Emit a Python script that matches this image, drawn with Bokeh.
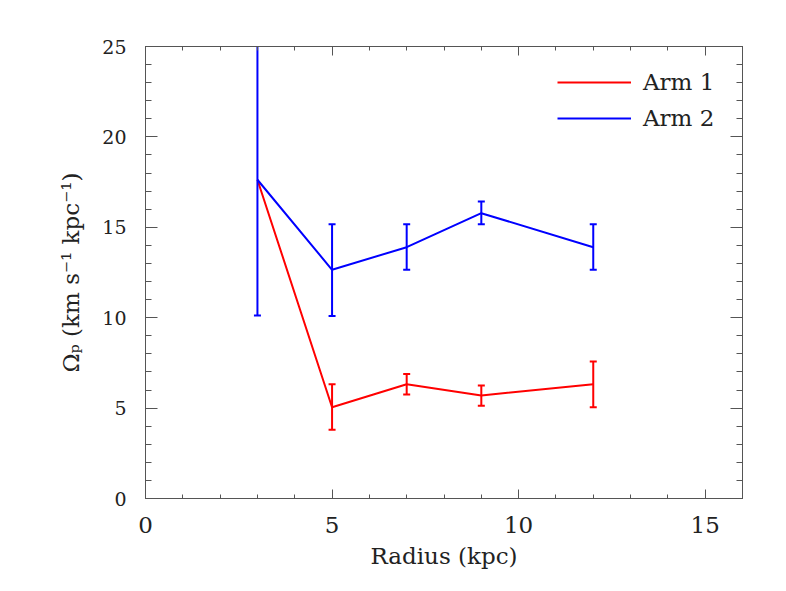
from bokeh.plotting import figure
from bokeh.models import Range1d, SingleIntervalTicker, LinearAxis, Legend, LegendItem
from bokeh.embed import file_html
from bokeh.resources import INLINE

nan = float("nan")

# Data
radius = [3, 5, 7, 9, 12]
arm1 = [17.63, 5.05, 6.32, 5.70, 6.32]
arm1_lo = [nan, 3.80, 5.75, 5.13, 5.05]
arm1_hi = [nan, 6.32, 6.88, 6.25, 7.58]
arm2 = [17.63, 12.65, 13.90, 15.78, 13.90]
arm2_lo = [10.12, 10.10, 12.65, 15.17, 12.65]
arm2_hi = [25.20, 15.17, 15.17, 16.43, 15.17]
series_names = ["Arm 1", "Arm 2"]
x_ticks_interval = 5
y_ticks_interval = 5

FONT = "DejaVu Serif"
AX = "#555555"
TXT = "#222222"

p = figure(frame_width=597, frame_height=452,
           min_border_left=145, min_border_top=46, min_border_right=28, min_border_bottom=77,
           x_range=Range1d(0, 16), y_range=Range1d(0, 25),
           output_backend="svg", toolbar_location=None,
           x_axis_location=None, y_axis_location=None)
p.grid.visible = False
p.outline_line_color = AX
p.background_fill_color = "white"
p.border_fill_color = "white"


def style(ax, ticklen_major, ticklen_minor, label_size):
    ax.axis_line_color = AX
    ax.major_tick_line_color = AX
    ax.minor_tick_line_color = AX
    ax.major_tick_in = ticklen_major
    ax.major_tick_out = 0
    ax.minor_tick_in = ticklen_minor
    ax.minor_tick_out = 0
    ax.major_label_text_font = FONT
    ax.major_label_text_color = TXT
    ax.major_label_text_font_size = label_size
    ax.axis_label_text_font = FONT
    ax.axis_label_text_color = TXT
    ax.axis_label_text_font_style = "normal"


xt = SingleIntervalTicker(interval=x_ticks_interval, num_minor_ticks=5)
yt = SingleIntervalTicker(interval=y_ticks_interval, num_minor_ticks=5)

xb = LinearAxis(ticker=xt, axis_label="Radius (kpc)")
style(xb, 9, 4, "23px")
xb.major_label_standoff = 18
xb.axis_label_standoff = 7
xb.axis_label_text_font_size = "23px"
p.add_layout(xb, "below")

xa = LinearAxis(ticker=xt)
style(xa, 9, 4, "10px")
xa.major_label_overrides = {v: "" for v in range(0, 21, 5)}
xa.major_label_standoff = 0
p.add_layout(xa, "above")

yl = LinearAxis(ticker=yt, axis_label="Ωₚ (km s⁻¹ kpc⁻¹)")
style(yl, 12, 6, "19px")
yl.major_label_standoff = 19
yl.axis_label_standoff = 15
yl.axis_label_text_font_size = "23px"
p.add_layout(yl, "left")

yr = LinearAxis(ticker=yt)
style(yr, 12, 6, "10px")
yr.major_label_overrides = {v: "" for v in range(0, 31, 5)}
yr.major_label_standoff = 0
p.add_layout(yr, "right")

r1 = p.line(radius, arm1, line_color="#ff0000", line_width=2)
p.segment(radius, arm1_lo, radius, arm1_hi, line_color="#ff0000", line_width=2)
p.scatter(radius + radius, arm1_lo + arm1_hi, marker="dash", size=7,
          line_color="#ff0000", line_width=2)

r2 = p.line(radius, arm2, line_color="#0000ff", line_width=2)
p.segment(radius, arm2_lo, radius, arm2_hi, line_color="#0000ff", line_width=2)
p.scatter(radius + radius, arm2_lo + arm2_hi, marker="dash", size=7,
          line_color="#0000ff", line_width=2)

legend = Legend(items=[LegendItem(label=series_names[0], renderers=[r1]),
                       LegendItem(label=series_names[1], renderers=[r2])],
                location=(412, 367), orientation="vertical")
legend.border_line_color = None
legend.background_fill_alpha = 0
legend.padding = 0
legend.margin = 0
legend.spacing = 10
legend.glyph_width = 74
legend.glyph_height = 20
legend.label_height = 20
legend.label_standoff = 12
legend.label_text_font = FONT
legend.label_text_font_size = "23px"
legend.label_text_color = TXT
p.add_layout(legend)

open("out.html", "w").write(file_html(p, INLINE))
